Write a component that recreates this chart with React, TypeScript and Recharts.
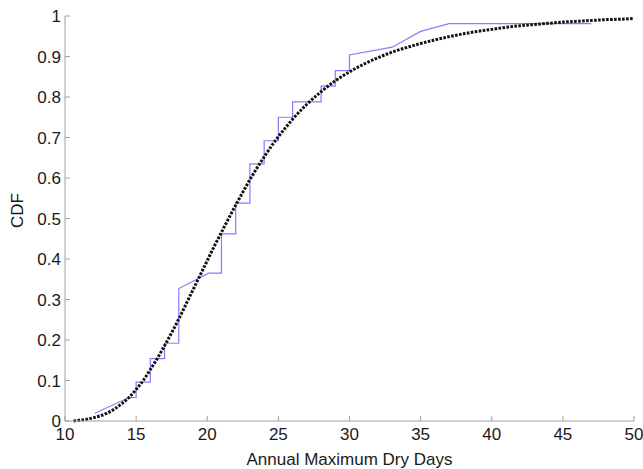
import React from 'react';
import { LineChart, Line, XAxis, YAxis, Label } from 'recharts';

const ecdfX = [12.1, 14.5, 15, 15, 16, 16, 17, 17, 18, 18, 20.1, 21, 21, 22, 22, 23, 23, 24, 24, 25, 25, 26, 26, 28, 28, 29, 29, 30, 30, 33, 35, 37, 47];
const ecdfY = [0.019, 0.058, 0.058, 0.096, 0.096, 0.154, 0.154, 0.192, 0.192, 0.327, 0.365, 0.365, 0.462, 0.462, 0.538, 0.538, 0.635, 0.635, 0.692, 0.692, 0.75, 0.75, 0.788, 0.788, 0.827, 0.827, 0.865, 0.865, 0.904, 0.923, 0.962, 0.981, 0.981];

// Fitted CDF (black dotted curve)
const fitX = [10.6, 11, 11.5, 12, 12.5, 13, 13.5, 14, 14.5, 15, 15.5, 16, 16.5, 17, 17.5, 18, 18.5, 19, 19.5, 20, 20.5, 21, 21.5, 22, 22.5, 23, 23.5, 24, 24.5, 25, 25.5, 26, 27, 28, 29, 30, 31, 32, 33, 34, 35, 36, 37, 38, 39, 40, 41, 42, 43, 44, 45, 46, 47, 48, 49, 50];
const fitY = [0, 0.002, 0.004, 0.008, 0.013, 0.02, 0.03, 0.043, 0.058, 0.078, 0.1, 0.127, 0.155, 0.186, 0.218, 0.252, 0.288, 0.324, 0.36, 0.396, 0.432, 0.466, 0.5, 0.533, 0.565, 0.596, 0.625, 0.652, 0.678, 0.702, 0.724, 0.745, 0.782, 0.813, 0.84, 0.862, 0.881, 0.897, 0.911, 0.922, 0.932, 0.941, 0.949, 0.956, 0.962, 0.967, 0.972, 0.976, 0.979, 0.982, 0.985, 0.987, 0.989, 0.991, 0.992, 0.994];

const xTicks = [10, 15, 20, 25, 30, 35, 40, 45, 50];
const yTicks = [0, 0.1, 0.2, 0.3, 0.4, 0.5, 0.6, 0.7, 0.8, 0.9, 1];

const ecdfData = ecdfX.map((x, i) => ({ x, y: ecdfY[i] }));
const fitData = fitX.map((x, i) => ({ x, y: fitY[i] }));

const FONT = '"Liberation Sans", Arial, sans-serif';
const AXIS = '#a0a0a0';
const TEXT = '#1a1a1a';
const FS = 17;

export default function App() {
  return (
    <div>
      <style>{'body{margin:0;overflow:hidden} svg.recharts-surface{overflow:visible}'}</style>
      <LineChart
        width={643}
        height={469}
        margin={{ top: 16, right: 9, left: 0, bottom: 0 }}
        style={{ fontFamily: FONT }}
      >
        <XAxis
          type="number"
          dataKey="x"
          domain={[10, 50]}
          ticks={xTicks}
          interval={0}
          height={48}
          stroke={AXIS}
          tickSize={-5}
          tickMargin={12}
          tick={{ fill: TEXT, fontSize: FS, fontFamily: FONT }}
        >
          <Label
            value="Annual Maximum Dry Days"
            position="insideBottom"
            offset={4}
            style={{ fill: TEXT, fontSize: FS, fontFamily: FONT }}
          />
        </XAxis>
        <XAxis
          xAxisId="top"
          orientation="top"
          type="number"
          dataKey="x"
          domain={[10, 50]}
          ticks={xTicks}
          height={0}
          stroke={AXIS}
          mirror
          tickSize={5}
          tick={false}
        />
        <YAxis
          type="number"
          domain={[0, 1]}
          ticks={yTicks}
          interval={0}
          width={65}
          stroke={AXIS}
          tickSize={-5}
          tickMargin={9}
          tick={{ fill: TEXT, fontSize: FS, fontFamily: FONT }}
        >
          <Label
            content={(props: any) => {
              const vb = props.viewBox || { x: 0, y: 16, width: 65, height: 405 };
              const cx = vb.x + 17;
              const cy = vb.y + vb.height / 2 - 8;
              return (
                <text
                  x={cx}
                  y={cy}
                  transform={`rotate(-90 ${cx} ${cy})`}
                  textAnchor="middle"
                  dominantBaseline="central"
                  fill={TEXT}
                  fontSize={FS}
                  fontFamily={FONT}
                >
                  CDF
                </text>
              );
            }}
          />
        </YAxis>
        <YAxis
          yAxisId="right"
          orientation="right"
          type="number"
          domain={[0, 1]}
          ticks={yTicks}
          width={0}
          stroke={AXIS}
          mirror
          tickSize={5}
          tick={false}
        />
        <Line
          data={ecdfData}
          dataKey="y"
          type="linear"
          stroke="#8080ff"
          strokeWidth={1.2}
          dot={false}
          isAnimationActive={false}
        />
        <Line
          data={fitData}
          dataKey="y"
          type="monotone"
          stroke="#111"
          strokeWidth={3}
          strokeDasharray="2.6 1.4"
          dot={false}
          isAnimationActive={false}
        />
      </LineChart>
    </div>
  );
}
